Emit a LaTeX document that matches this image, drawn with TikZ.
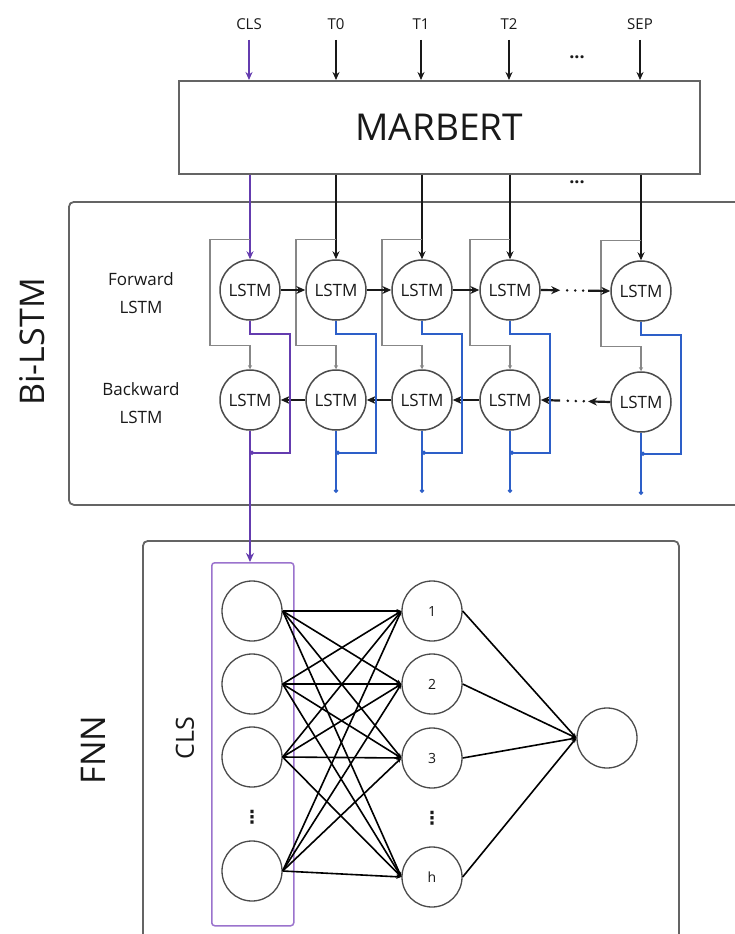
\documentclass[tikz,border=0pt]{standalone}
\usepackage{fontspec}
\setmainfont{Open Sans}
\newfontfamily\dejavu{DejaVu Sans}
\usetikzlibrary{arrows.meta,calc}
\definecolor{ink}{RGB}{25,25,25}
\definecolor{ring}{RGB}{75,75,75}
\definecolor{frame}{RGB}{100,100,100}
\definecolor{gline}{RGB}{135,135,135}
\definecolor{bline}{RGB}{45,95,200}
\definecolor{pline}{RGB}{100,60,175}
\definecolor{pbox}{RGB}{155,115,205}
\begin{document}
\begin{tikzpicture}[x=1pt,y=-1pt,
  lbl/.style={text=ink, font=\fontsize{15}{17}\selectfont, inner sep=0pt},
  lstm/.style={circle, draw=ring, line width=1.5pt, minimum size=60pt, inner sep=0pt, font=\fontsize{17}{19}\selectfont, text=ink},
  neuron/.style={circle, draw=ring, line width=1.3pt, minimum size=60pt, inner sep=0pt, font=\fontsize{14}{16}\selectfont, text=ink},
  inarrow/.style={line width=1.6pt, draw=ink, -{Stealth[length=8pt,width=7pt]}},
  chain/.style={line width=2.2pt, draw=ink, -{Stealth[length=9pt,width=8pt]}},
  skip/.style={line width=1.2pt, draw=gline, -{Stealth[length=4pt,width=4pt]}},
  outb/.style={line width=1.5pt, draw=bline, -{Circle[length=4pt]}},
  outp/.style={line width=1.6pt, draw=pline, -{Circle[length=4pt]}},
  wire/.style={line width=1.6pt, draw=black, -{Stealth[length=5pt,width=4pt]}},
  dotrow/.style={line width=2.8pt, draw=ink, line cap=round, dash pattern=on 0pt off 8pt},
  group/.style={draw=frame, line width=1.8pt, rounded corners=5pt, inner sep=0pt},
  bigtxt/.style={rotate=90, text=ink, font=\fontsize{34}{40}\selectfont},
  vdot/.style={text=ink, inner sep=0pt, font=\dejavu\bfseries\fontsize{18}{18}\selectfont},
  hdot/.style={lbl, font=\bfseries\fontsize{18}{18}\selectfont},
]
\useasboundingbox (0,0) rectangle (735,934);
\clip (0,0) rectangle (735,934);
\fill[white] (0,0) rectangle (735,934);

% containers
\node[group, anchor=north west, minimum width=692pt, minimum height=303pt] (bibox) at (68,201) {};
\node[group, anchor=north west, minimum width=536pt, minimum height=420pt] (fnnbox) at (142,540) {};
\node[draw=frame, line width=1.6pt, anchor=north west, minimum width=521pt, minimum height=93pt,
      font=\fontsize{37}{40}\selectfont, text=ink] (marbert) at (178,80) {MARBERT};
\node[draw=pbox, line width=1.5pt, rounded corners=3pt, anchor=north west, minimum width=82pt, minimum height=363pt] (clsbox) at (211,562) {};

% side labels
\node[bigtxt] (bilbl) at (32,342) {Bi-LSTM};
\node[bigtxt] (fnnlbl) at (93,750) {FNN};
\node[rotate=90, text=ink, font=\fontsize{25}{28}\selectfont] (clslbl) at (185,738) {CLS};
\node[align=center, text=ink, font=\fontsize{17}{28}\selectfont] (fwdlbl) at (141,293) {Forward\\LSTM};
\node[align=center, text=ink, font=\fontsize{17}{28}\selectfont] (bwdlbl) at (141,403) {Backward\\LSTM};

% token labels
\node[lbl] (tcls) at (249,24) {CLS};
\node[lbl] (tt0) at (336,24) {T0};
\node[lbl] (tt1) at (421,24) {T1};
\node[lbl] (tt2) at (509,24) {T2};
\node[lbl] (tsep) at (640,24) {SEP};
\node[hdot] (dtop) at (577,57) {...};
\node[hdot] (dmid) at (577,182) {...};

% LSTM cells
\node[lstm] (f1) at (250,290) {LSTM};
\node[lstm] (f2) at (336,290) {LSTM};
\node[lstm] (f3) at (422,290) {LSTM};
\node[lstm] (f4) at (510,290) {LSTM};
\node[lstm] (f5) at (641,291) {LSTM};
\node[lstm] (b1) at (250,400) {LSTM};
\node[lstm] (b2) at (336,400) {LSTM};
\node[lstm] (b3) at (422,400) {LSTM};
\node[lstm] (b4) at (510,400) {LSTM};
\node[lstm] (b5) at (641,402) {LSTM};

% FNN neurons
\node[neuron] (i1) at (252,611) {};
\node[neuron] (i2) at (252,684) {};
\node[neuron] (i3) at (252,757) {};
\node[neuron] (i4) at (252,871) {};
\node[vdot] (idots) at (252,817) {⋮};
\node[neuron] (h1) at (432,611) {1};
\node[neuron] (h2) at (432,684) {2};
\node[neuron] (h3) at (432,758) {3};
\node[neuron] (h4) at (432,877) {h};
\node[vdot] (hdots) at (432,818) {⋮};
\node[neuron] (o) at (607,738) {};

% inputs into MARBERT
\draw[inarrow, draw=pline] ($(tcls.center)+(0,16)$) -- (tcls |- marbert.north);
\draw[inarrow] ($(tt0.center)+(0,16)$) -- (tt0 |- marbert.north);
\draw[inarrow] ($(tt1.center)+(0,16)$) -- (tt1 |- marbert.north);
\draw[inarrow] ($(tt2.center)+(0,16)$) -- (tt2 |- marbert.north);
\draw[inarrow] ($(tsep.center)+(0,16)$) -- (tsep |- marbert.north);

% MARBERT to forward LSTMs
\draw[inarrow, draw=pline, line width=1.9pt] (marbert.south -| f1) -- (f1.north);
\draw[inarrow] (marbert.south -| f2) -- (f2.north);
\draw[inarrow] (marbert.south -| f3) -- (f3.north);
\draw[inarrow] (marbert.south -| f4) -- (f4.north);
\draw[inarrow] (marbert.south -| f5) -- (f5.north);

% skip (gray) paths
\foreach \k in {1,...,5}{
  \draw[skip] ($(f\k.north)+(0,-20)$) -- ++(-40,0) -- ++(0,106) -- ++(40,0) -- (b\k.north);
}

% forward chain
\draw[chain] (f1) -- (f2);
\draw[chain] (f2) -- (f3);
\draw[chain] (f3) -- (f4);
\draw[chain] (f4.east) -- ($(f4.east)!0.28!(f5.west)$);
\draw[dotrow] ($(f4.east)!0.38!(f5.west)$) -- ($(f4.east)!0.62!(f5.west)$);
\draw[chain] ($(f4.east)!0.68!(f5.west)$) -- (f5.west);

% backward chain
\draw[chain] (b2) -- (b1);
\draw[chain] (b3) -- (b2);
\draw[chain] (b4) -- (b3);
\draw[chain] (b5.west) -- ($(b5.west)!0.32!(b4.east)$);
\draw[dotrow] ($(b5.west)!0.38!(b4.east)$) -- ($(b5.west)!0.62!(b4.east)$);
\draw[chain] ($(b5.west)!0.72!(b4.east)$) -- (b4.east);

% outputs
\draw[outp] (f1.south) -- ++(0,13) -- ++(40,0) -- ++(0,119) -- ++(-40,0);
\draw[line width=2.4pt, draw=pline, -{Stealth[length=9pt,width=8pt]}] (b1.south) -- (b1.south |- clsbox.north);
\foreach \k in {2,...,5}{
  \draw[outb] (f\k.south) -- ++(0,13) -- ++(40,0) -- ++(0,119) -- ++(-40,0);
  \draw[outb] (b\k.south) -- ++(0,62);
}

% FNN wires
\foreach \a in {1,...,4}{
  \foreach \b in {1,...,4}{
    \draw[wire] (i\a.east) -- (h\b.west);
  }
  \draw[wire] (h\a.east) -- (o.west);
}
\end{tikzpicture}
\end{document}
